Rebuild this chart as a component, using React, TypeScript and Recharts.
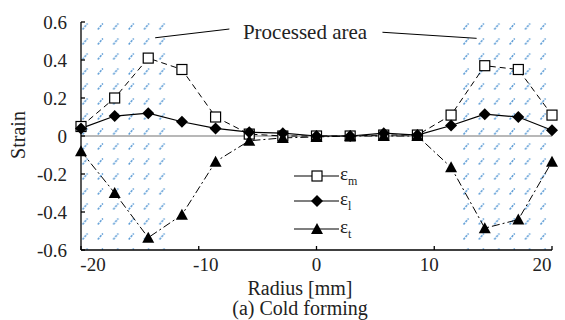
import React from 'react';
import { LineChart, Line, XAxis, YAxis, ReferenceArea, ReferenceLine } from 'recharts';

// radius positions of the measuring points [mm]
const radius = [-20, -17.14, -14.29, -11.43, -8.57, -5.71, -2.86, 0, 2.86, 5.71, 8.57, 11.43, 14.29, 17.14, 20];
// strain components
const strainM = [0.05, 0.2, 0.41, 0.35, 0.1, 0.01, 0, 0, 0, 0.005, 0.005, 0.11, 0.37, 0.35, 0.11];
const strainL = [0.04, 0.105, 0.12, 0.075, 0.04, 0.02, 0.015, 0, 0, 0.015, 0.005, 0.055, 0.115, 0.1, 0.03];
const strainT = [-0.08, -0.3, -0.535, -0.415, -0.135, -0.025, -0.01, -0.005, 0, 0, 0, -0.165, -0.485, -0.44, -0.135];

const xTicks = [-20, -10, 0, 10, 20];
const yTicks = [-0.6, -0.4, -0.2, 0, 0.2, 0.4, 0.6];

// processed (hatched) zones [mm]
const leftZone = [-20, -12.7];
const rightZone = [12.3, 20.25];

const rows = radius.map((r, i) => ({ r, m: strainM[i], l: strainL[i], t: strainT[i] }));

const FONT = 'Liberation Serif, Tinos, "DejaVu Serif", "Noto Serif", "Times New Roman", serif';

const Square = (props: any) => {
  const { cx, cy, index } = props;
  return <rect key={`sq-${index}`} x={cx - 5} y={cy - 5} width={10} height={10} fill="#fff" stroke="#000" strokeWidth={1.2} />;
};
const Diamond = (props: any) => {
  const { cx, cy, index } = props;
  return <path key={`dm-${index}`} d={`M${cx},${cy - 6} L${cx + 6},${cy} L${cx},${cy + 6} L${cx - 6},${cy} Z`} fill="#000" />;
};
const Triangle = (props: any) => {
  const { cx, cy, index } = props;
  return <path key={`tr-${index}`} d={`M${cx},${cy - 6} L${cx + 6},${cy + 5} L${cx - 6},${cy + 5} Z`} fill="#000" />;
};

// x labels sit a little toward the centre in the original figure
const XTick = (props: any) => {
  const { x, y, payload } = props;
  const v = payload.value;
  const shift = -v * 0.5 + (v < 0 ? 2 : 0);
  return (
    <text x={x + shift} y={y} dy="0.71em" textAnchor="middle" fill="#222" fontSize={19} fontFamily={FONT}>{v}</text>
  );
};

const Label = ({ x, y, text, size = 20, rotate = false }: { x: number; y: number; text: React.ReactNode; size?: number; rotate?: boolean }) => (
  <div style={{
    position: 'absolute', left: x, top: y, fontSize: size, lineHeight: 1, whiteSpace: 'nowrap',
    transform: `translate(-50%, -50%)${rotate ? ' rotate(-90deg)' : ''}`, fontFamily: FONT, color: '#222',
  }}>{text}</div>
);

const LegendRow = ({ y, sub, marker }: { y: number; sub: string; marker: 'sq' | 'dm' | 'tr' }) => (
  <div style={{ position: 'absolute', left: 292, top: y - 12, height: 24, display: 'flex', alignItems: 'center', fontFamily: FONT }}>
    <svg width={48} height={24}>
      <line x1={2} y1={12} x2={47} y2={12} stroke="#000" strokeWidth={1.2} />
      {marker === 'sq' && <Square cx={25} cy={12} />}
      {marker === 'dm' && <Diamond cx={25} cy={12} />}
      {marker === 'tr' && <Triangle cx={25} cy={12} />}
    </svg>
    <span style={{ fontSize: 19, color: '#222' }}>ε<sub style={{ fontSize: 12 }}>{sub}</sub></span>
  </div>
);

export default function App() {
  return (
    <div style={{ position: 'absolute', left: 0, top: 0, width: 565, height: 320, background: '#fff' }}>
      <LineChart width={565} height={320} data={rows} margin={{ top: 22, right: 13, bottom: 40, left: 21 }}>
        <defs>
          <pattern id="hatchL" patternUnits="userSpaceOnUse" width={15.4} height={15}>
            <line x1={5.5} y1={14.5} x2={10.5} y2={8.5} stroke="#5b9bd5" strokeWidth={1.5} strokeDasharray="2.2 1" />
          </pattern>
          <pattern id="hatchR" patternUnits="userSpaceOnUse" width={15.4} height={15}>
            <line x1={1.5} y1={14.5} x2={6.5} y2={8.5} stroke="#5b9bd5" strokeWidth={1.5} strokeDasharray="2.2 1" />
          </pattern>
        </defs>
        <ReferenceArea x1={leftZone[0]} x2={leftZone[1]} y1={-0.6} y2={0.632} fill="url(#hatchL)" fillOpacity={1} ifOverflow="visible" />
        <ReferenceArea x1={rightZone[0]} x2={rightZone[1]} y1={-0.6} y2={0.632} fill="url(#hatchR)" fillOpacity={1} ifOverflow="visible" />
        <ReferenceLine y={0} stroke="#a0a0a0" strokeWidth={1.5} />
        <ReferenceLine segment={[{ x: -13.7, y: 0.517 }, { x: -7.4, y: 0.563 }]} stroke="#000" strokeWidth={1} ifOverflow="visible" />
        <ReferenceLine segment={[{ x: 5.6, y: 0.546 }, { x: 13.6, y: 0.514 }]} stroke="#000" strokeWidth={1} ifOverflow="visible" />
        <XAxis
          dataKey="r"
          type="number"
          domain={[-20, 20]}
          ticks={xTicks}
          height={30}
          stroke="#000"
          strokeWidth={1.3}
          tickSize={-4}
          tickMargin={12}
          tick={<XTick />}
        />
        <YAxis
          type="number"
          domain={[-0.6, 0.6]}
          ticks={yTicks}
          width={60}
          stroke="#000"
          strokeWidth={1.3}
          tickSize={-4}
          tickMargin={18}
          tick={{ fill: '#222', fontSize: 19, fontFamily: FONT }}
        />
        <Line dataKey="m" stroke="#000" strokeWidth={1} strokeDasharray="6 4" dot={Square} isAnimationActive={false} />
        <Line dataKey="l" stroke="#000" strokeWidth={1.2} dot={Diamond} isAnimationActive={false} />
        <Line dataKey="t" stroke="#000" strokeWidth={1} strokeDasharray="8 3 2 3" dot={Triangle} isAnimationActive={false} />
      </LineChart>
      <Label x={305} y={32} text="Processed area" size={21} />
      <Label x={18} y={135} text="Strain" rotate />
      <Label x={300} y={288} text="Radius [mm]" />
      <Label x={300} y={308} text="(a) Cold forming" />
      <LegendRow y={176} sub="m" marker="sq" />
      <LegendRow y={201} sub="l" marker="dm" />
      <LegendRow y={229} sub="t" marker="tr" />
    </div>
  );
}
